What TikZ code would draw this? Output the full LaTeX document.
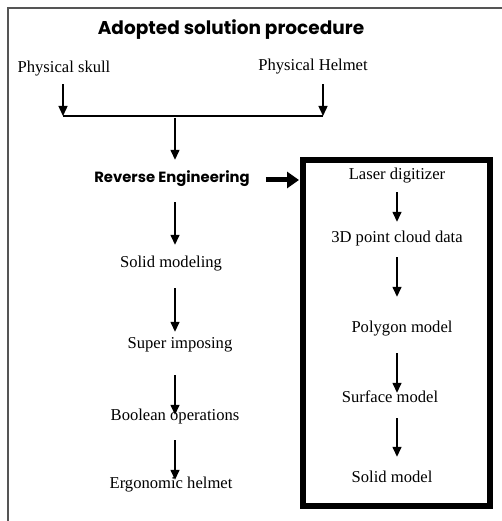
\documentclass[tikz,border=0pt]{standalone}
\usepackage{fontspec}
\setmainfont{Liberation Serif}
\newfontfamily\comicf{Poppins}
\usetikzlibrary{arrows.meta,calc}
\definecolor{framegray}{RGB}{85,85,85}
\begin{document}
\begin{tikzpicture}[x=1pt,y=-1pt,
  txt/.style={font=\fontsize{16.6}{18}\selectfont, inner sep=0pt, text height=11pt, text depth=3pt},
  ttl/.style={font=\comicf\bfseries\fontsize{18.5}{20}\selectfont, inner sep=0pt, text height=11pt, text depth=3pt},
  arr/.style={line width=1.4pt, -{Triangle[length=10pt,width=9pt]}},
  bigarr/.style={line width=5pt, -{Triangle[length=12pt,width=16pt]}},
  plain/.style={line width=1.4pt}]
\useasboundingbox (0,0) rectangle (502,521);
\fill[white] (0,0) rectangle (502,521);
\draw[framegray, line width=2pt] (8,521) -- (8,8) -- (502,8);

\node[ttl] (title) at (231,31) {Adopted solution procedure};
\node[txt] (skull) at (64,69) {Physical skull};
\node[txt] (helmet) at (313,67) {Physical Helmet};
\coordinate (jl) at (63,116);
\coordinate (jr) at (323,116);
\coordinate (jm) at (175,116);
\coordinate (colL) at (175,0);
\coordinate (colR) at (397,0);

\node[ttl, font=\comicf\bfseries\fontsize{14.8}{16}\selectfont] (re) at (172,179) {Reverse Engineering};
\node[txt] (solid) at (171,263) {Solid modeling};
\node[txt] (sup) at (180,344) {Super imposing};
\node[txt] (bool) at (175,416) {Boolean operations};
\node[txt] (erg) at (171,484) {Ergonomic helmet};

\node[draw, line width=6pt, minimum width=187pt, minimum height=346pt, inner sep=0pt] (box) at (396.5,333) {};
\node[txt] (laser) at (397,176) {Laser digitizer};
\node[txt] (pc) at (397,238) {3D point cloud data};
\node[txt] (poly) at (402,328) {Polygon model};
\node[txt] (surf) at (390,398) {Surface model};
\node[txt] (sm) at (392,478) {Solid model};

% top merge
\draw[arr] ([yshift=-8pt]skull.south -| jl) -- (jl);
\draw[arr] ([yshift=-8pt]skull.south -| jr) -- (jr);
\draw[plain] (jl) -- (jr);
\draw[arr] ([yshift=-2pt]jm) -- ([yshift=12pt]re.north -| colL);

% left column
\draw[arr] ([yshift=-16pt]re.south -| colL) -- ([yshift=11pt]solid.north -| colL);
\draw[arr] ([yshift=-18pt]solid.south -| colL) -- ([yshift=5pt]sup.north -| colL);
\draw[arr] ([yshift=-24pt]sup.south -| colL) -- ([yshift=-6pt]bool.north -| colL);
\draw[arr] ([yshift=-17pt]bool.south -| colL) -- ([yshift=-3pt]erg.north -| colL);

% right column
\draw[arr] ([yshift=-9pt]laser.south -| colR) -- ([yshift=9pt]pc.north -| colR);
\draw[arr] ([yshift=-12pt]pc.south -| colR) -- ([yshift=24pt]poly.north -| colR);
\draw[arr] ([yshift=-18pt]poly.south -| colR) -- ([yshift=-2pt]surf.north -| colR);
\draw[arr] ([yshift=-13pt]surf.south -| colR) -- ([yshift=14pt]sm.north -| colR);

% thick arrow
\draw[bigarr] ([xshift=16pt,yshift=-1pt]re.east) -- ([xshift=-1pt,yshift=-1pt]box.west |- re.east);
\end{tikzpicture}
\end{document}
